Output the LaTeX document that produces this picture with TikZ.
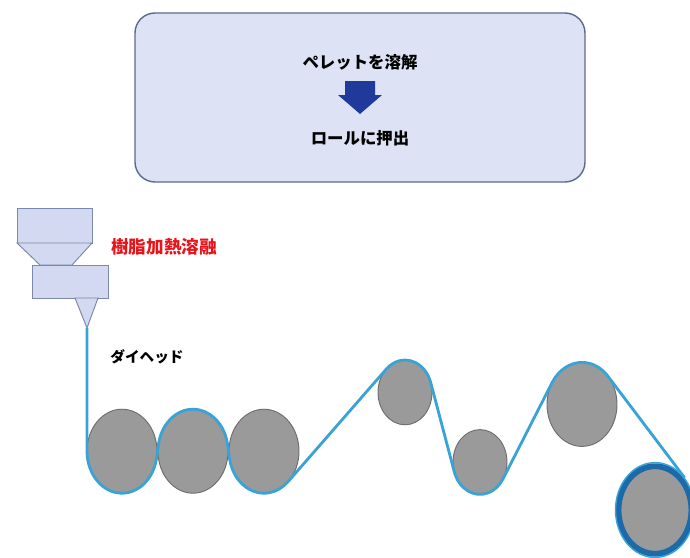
\documentclass[tikz,border=0pt]{standalone}
\usepackage{fontspec}
\newfontfamily\jp{Noto Sans CJK JP}
\definecolor{boxfill}{HTML}{DDE3F4}
\definecolor{boxedge}{HTML}{5B6A8E}
\definecolor{hopfill}{HTML}{D2D9F0}
\definecolor{hopedge}{HTML}{7B88AA}
\definecolor{arrowblue}{HTML}{1F3A9A}
\definecolor{heatred}{HTML}{E8141C}
\definecolor{rollgray}{HTML}{9A9A9A}
\definecolor{rolledge}{HTML}{6E6E6E}
\definecolor{filmblue}{HTML}{3AA3D6}
\definecolor{rollblue}{HTML}{1D6AA8}

\begin{document}
\begin{tikzpicture}[x=0.03cm, y=-0.03cm,
		part/.style={fill=hopfill, draw=hopedge, line width=0.8pt},
		roll/.style={fill=rollgray, draw=rolledge, line width=0.8pt},
		film/.style={draw=filmblue, line width=2.4pt, line join=round},
		lbl/.style={inner sep=0pt, font=\jp\bfseries\fontsize{#1}{1.2em}\selectfont},
		lbl/.default=14pt]
		\useasboundingbox (0,0) rectangle (690,558);
		
		\draw[fill=boxfill, draw=boxedge, line width=1.2pt, rounded corners=0.6cm] (135,13) rectangle (585,182);
		\node[lbl] (M) at (360,62) {ペレットを溶解};
		\node[lbl] (E) at (360,138) {ロールに押出};
		\fill[arrowblue] (345,81) -- (375,81) -- (375,95) -- (382,95) -- (360,114) -- (338,95) -- (345,95) -- cycle;
		
		\draw[part] (17,208) rectangle (92,243);
		\draw[part] (17,243) -- (92,243) -- (72,265) -- (40,265) -- cycle;
		\draw[part] (32,265) rectangle (108,298);
		\draw[part] (75,298) -- (98,298) -- (87,328) -- cycle;
		\coordinate (tip) at (87,328);
		\node[lbl=15pt, text=heatred] (H) at (164,247) {樹脂加熱溶融};
		\node[lbl=12.5pt] (D) at (147,357) {ダイヘッド};
		
		\begin{scope}[yscale=1.2]
			\foreach \x/\y/\r in {122/376/35, 193/376/35, 264/376/35, 405/327/27, 480/385/27, 582/337/35}
				\draw[roll] (\x,\y) circle[radius=\r];
			\fill[rollgray] (655,425) circle[radius=35];
			\draw[rollblue, line width=5pt] (655,425) circle[radius=36.5];
			\draw[filmblue, line width=1.2pt] (655,425) circle[radius=39.5];
			\draw[film] (tip) -- (87,376)
				arc[start angle=180, end angle=9.63, radius=35] -- (158.49,370.14)
				arc[start angle=189.63, end angle=350.37, radius=35] -- (229.49,381.86)
				arc[start angle=170.37, end angle=46.30, radius=35] -- (386.35,307.48)
				arc[start angle=226.30, end angle=342.43, radius=27] -- (454.26,393.15)
				arc[start angle=162.43, end angle=31.43, radius=27] -- (552.13,318.75)
				arc[start angle=211.43, end angle=317.82, radius=35] -- (684.64,398.14);
		\end{scope}
\end{tikzpicture}
\end{document}
